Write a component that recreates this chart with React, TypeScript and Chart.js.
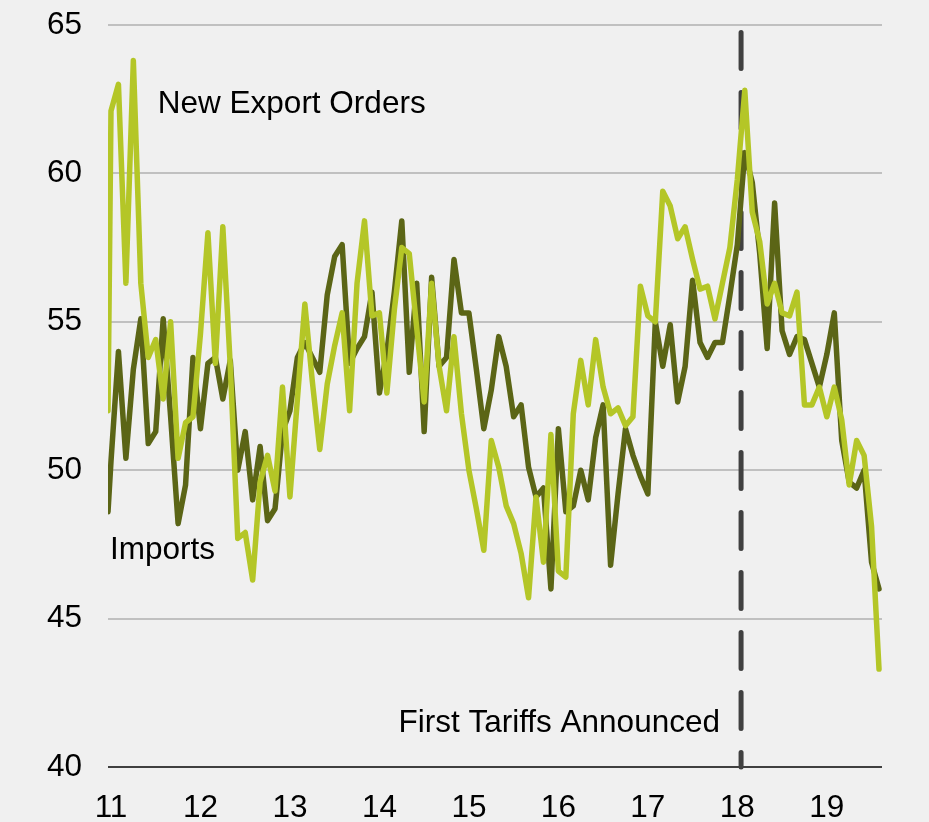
import React, { useEffect, useRef } from "react";
import { Chart, registerables } from "chart.js";

Chart.register(...registerables);

// Year tick labels (one per January, starting Jan 2011)
const yearLabels = ["11", "12", "13", "14", "15", "16", "17", "18", "19"];

// ISM-style diffusion indexes, monthly Jan 2011 – Aug 2019
const newExportOrders = [
  62.1, 63.0, 56.3, 63.8, 56.3, 53.8, 54.4, 52.4, 55.0, 50.4, 51.6, 51.8,
  54.6, 58.0, 53.6, 58.2, 53.5, 47.7, 47.9, 46.3, 49.6, 50.5, 49.3, 52.8,
  49.1, 52.4, 55.6, 53.0, 50.7, 52.9, 54.2, 55.3, 52.0, 56.3, 58.4, 55.2,
  55.3, 52.6, 55.4, 57.5, 57.3, 54.8, 52.3, 56.3, 53.5, 52.0, 54.5, 51.9,
  50.0, 48.7, 47.3, 51.0, 50.1, 48.8, 48.2, 47.2, 45.7, 49.1, 46.9, 51.2,
  46.6, 46.4, 51.9, 53.7, 52.2, 54.4, 52.8, 51.9, 52.1, 51.5, 51.8, 56.2,
  55.2, 55.0, 59.4, 58.9, 57.8, 58.2, 57.1, 56.1, 56.2, 55.1, 56.3, 57.5,
  59.8, 62.8, 58.7, 57.7, 55.6, 56.3, 55.3, 55.2, 56.0, 52.2, 52.2, 52.8,
  51.8, 52.8, 51.7, 49.5, 51.0, 50.5, 48.1, 43.3,
];

const imports = [
  50.3, 54.0, 50.4, 53.4, 55.1, 50.9, 51.3, 55.1, 51.8, 48.2, 49.5, 53.8,
  51.4, 53.6, 53.8, 52.4, 53.7, 50.0, 51.3, 49.0, 50.8, 48.3, 48.7, 51.3,
  52.0, 53.8, 54.3, 53.8, 53.3, 55.9, 57.2, 57.6, 53.6, 54.1, 54.5, 56.0,
  52.6, 54.0, 56.0, 58.4, 53.3, 56.3, 51.3, 56.5, 53.5, 53.8, 57.1, 55.3,
  55.3, 53.4, 51.4, 52.7, 54.5, 53.5, 51.8, 52.2, 50.1, 49.1, 49.4, 46.0,
  51.4, 48.6, 48.8, 50.0, 49.0, 51.1, 52.2, 46.8, 49.2, 51.4, 50.5, 49.8,
  49.2, 55.0, 53.5, 54.9, 52.3, 53.5, 56.4, 54.3, 53.8, 54.3, 54.3, 55.9,
  57.6, 60.7, 59.7, 57.3, 54.1, 59.0, 54.7, 53.9, 54.5, 54.4, 53.6, 52.8,
  53.9, 55.3, 51.0, 49.6, 49.4, 50.0, 46.9, 46.0,
];

// values where each line enters at the left edge of the plot
const newExportOrdersEdge = 52.0;
const importsEdge = 48.6;

// x axis: month index (0 = Jan 2011)
const xMin = -0.4;
const xMax = 103.4;
const tariffMonth = 84.5; // late Jan 2018
const yTicks = [40, 45, 50, 55, 60, 65];

const FONT = "'Liberation Sans', Arial, Helvetica, sans-serif";
const LIGHT = "#b4c627";
const DARK = "#5b6516";

function toPoints(edge: number, values: number[]) {
  return [{ x: xMin, y: edge }, ...values.map((v, i) => ({ x: i, y: v }))];
}

const annotationPlugin = {
  id: "annotations",
  beforeDatasetsDraw(chart: any) {
    const { ctx, chartArea, scales } = chart;
    const x = scales.x.getPixelForValue(tariffMonth);
    const yTop = scales.y.getPixelForValue(64.75);
    ctx.save();
    ctx.beginPath();
    ctx.setLineDash([36, 24]);
    ctx.lineCap = "round";
    ctx.lineWidth = 5;
    ctx.strokeStyle = "#404040";
    ctx.moveTo(x, yTop);
    ctx.lineTo(x, chartArea.bottom);
    ctx.stroke();
    ctx.restore();
  },
  afterDatasetsDraw(chart: any) {
    const { ctx, scales } = chart;
    const px = (v: number) => scales.x.getPixelForValue(v);
    const py = (v: number) => scales.y.getPixelForValue(v);
    ctx.save();
    ctx.fillStyle = "#000";
    ctx.font = `31.5px ${FONT}`;
    ctx.textBaseline = "alphabetic";
    ctx.textAlign = "left";
    ctx.fillText("New Export Orders", px(6.28), py(62.04));
    ctx.fillText("Imports", px(-0.13), py(47.02));
    ctx.textAlign = "right";
    ctx.fillText("First Tariffs Announced", px(81.67), py(41.18));
    ctx.restore();
  },
};

export default function App() {
  const ref = useRef<HTMLCanvasElement | null>(null);

  useEffect(() => {
    document.body.style.margin = "0";
    document.body.style.background = "#f0f0f0";
    if (!ref.current) return;
    const chart = new Chart(ref.current, {
      type: "line",
      data: {
        datasets: [
          {
            label: "New Export Orders",
            data: toPoints(newExportOrdersEdge, newExportOrders),
            borderColor: LIGHT,
            borderWidth: 5.5,
            pointRadius: 0,
            tension: 0,
            borderJoinStyle: "round",
            borderCapStyle: "round",
          },
          {
            label: "Imports",
            data: toPoints(importsEdge, imports),
            borderColor: DARK,
            borderWidth: 5.5,
            pointRadius: 0,
            tension: 0,
            borderJoinStyle: "round",
            borderCapStyle: "round",
          },
        ],
      },
      options: {
        animation: false,
        responsive: false,
        devicePixelRatio: 1,
        parsing: false,
        layout: { padding: { top: 25, right: 47, left: 0, bottom: 0 } },
        plugins: {
          legend: { display: false },
          tooltip: { enabled: false },
        },
        scales: {
          x: {
            type: "linear",
            min: xMin,
            max: xMax,
            grid: { display: false, drawTicks: false },
            border: { display: false },
            afterBuildTicks: (scale: any) => {
              scale.ticks = yearLabels.map((_, i) => ({ value: i * 12 }));
            },
            afterFit: (scale: any) => {
              scale.height = 55;
              scale.paddingLeft = 0;
              scale.paddingRight = 0;
            },
            ticks: {
              autoSkip: false,
              maxRotation: 0,
              padding: 22,
              color: "#000",
              font: { family: FONT, size: 31.5 },
              callback: (v: any) => yearLabels[Math.round(Number(v) / 12)],
            },
          },
          y: {
            min: 40,
            max: 65,
            grid: {
              drawTicks: false,
              lineWidth: 2,
              color: (c: any) => (c.tick && c.tick.value === 40 ? "#404040" : "#c0c0c0"),
            },
            border: { display: false },
            afterBuildTicks: (scale: any) => {
              scale.ticks = yTicks.map((v) => ({ value: v }));
            },
            afterFit: (scale: any) => {
              scale.width = 108;
              scale.paddingTop = 0;
              scale.paddingBottom = 0;
            },
            ticks: {
              padding: 26,
              color: "#000",
              font: { family: FONT, size: 31.5 },
            },
          },
        },
      },
      plugins: [annotationPlugin],
    });
    return () => chart.destroy();
  }, []);

  return (
    <div style={{ width: 929, height: 822, background: "#f0f0f0" }}>
      <canvas ref={ref} width={929} height={822} style={{ display: "block" }} />
    </div>
  );
}
